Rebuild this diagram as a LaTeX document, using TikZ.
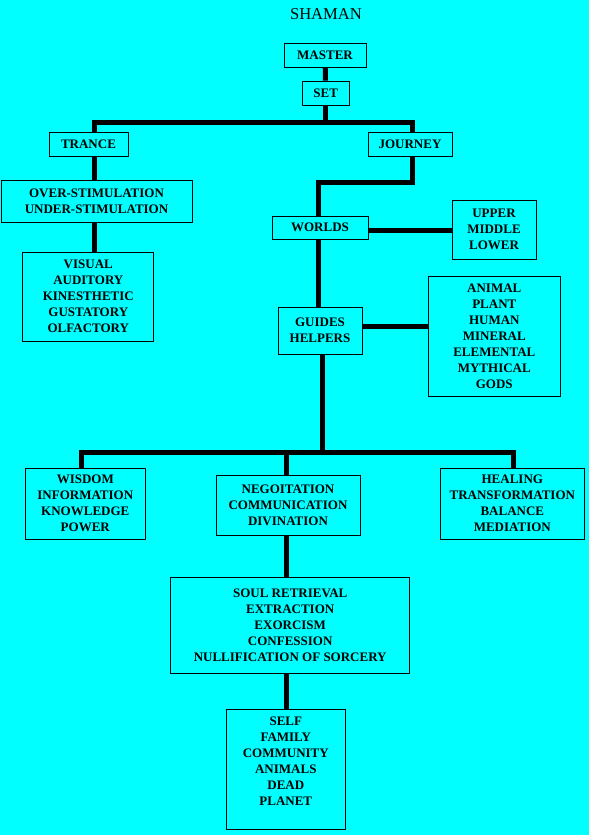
\documentclass[tikz,border=0pt]{standalone}
\usepackage{fontspec}
\setmainfont{Liberation Serif}
\usetikzlibrary{positioning}
\definecolor{shamanbg}{RGB}{0,255,255}
\tikzset{
  box/.style={draw, line width=0.9pt, inner sep=0pt, align=center,
    font=\fontsize{13}{16}\selectfont\bfseries},
  link/.style={line width=5pt, line join=miter}
}

\begin{document}
\begin{tikzpicture}[x=1pt,y=-1pt]
  \fill[shamanbg] (0,0) rectangle (589,835);
  \useasboundingbox (0,0) rectangle (589,835);
  \node (title) at (326,14) {\fontsize{16.6}{18}\selectfont SHAMAN};
  \node[box, minimum width=82, minimum height=24] (master) at (325,55.5) {MASTER};
  \node[box, minimum width=47, minimum height=24] (set) at (325.7,93) {SET};
  \node[box, minimum width=79, minimum height=24] (trance) at (88.5,144) {TRANCE};
  \node[box, minimum width=84, minimum height=24] (journey) at (410,144) {JOURNEY};
  \node[box, minimum width=191, minimum height=42] (stim) at (96.5,201)
    {OVER-STIMULATION\\UNDER-STIMULATION};
  \node[box, minimum width=131, minimum height=89] (senses) at (88.3,296.5)
    {VISUAL\\AUDITORY\\KINESTHETIC\\GUSTATORY\\OLFACTORY};
  \node[box, minimum width=96, minimum height=23] (worlds) at (320,227.5) {WORLDS};
  \node[box, minimum width=84, minimum height=59] (levels) at (494,229.5)
    {UPPER\\MIDDLE\\LOWER};
  \node[box, minimum width=84, minimum height=47] (guides) at (320,330.5)
    {GUIDES\\HELPERS};
  \node[box, minimum width=131.5, minimum height=120] (spirits) at (494.3,336)
    {ANIMAL\\PLANT\\HUMAN\\MINERAL\\ELEMENTAL\\MYTHICAL\\GODS};
  \node[box, minimum width=119.5, minimum height=71] (wisdom) at (85.3,503.5)
    {WISDOM\\INFORMATION\\KNOWLEDGE\\POWER};
  \node[box, minimum width=144, minimum height=60] (nego) at (288,505)
    {NEGOITATION\\COMMUNICATION\\DIVINATION};
  \node[box, minimum width=143.3, minimum height=71] (healing) at (512.3,503.5)
    {HEALING\\TRANSFORMATION\\BALANCE\\MEDIATION};
  \node[box, minimum width=239, minimum height=96] (soul) at (290.2,625)
    {SOUL RETRIEVAL\\EXTRACTION\\EXORCISM\\CONFESSION\\NULLIFICATION OF SORCERY};
  \node[box, minimum width=118.3, minimum height=120] (self) at (285.8,769)
    {SELF\\FAMILY\\COMMUNITY\\ANIMALS\\DEAD\\PLANET\\\phantom{X}};
  % branch points
  \coordinate (barL) at (94,122.5);
  \coordinate (barR) at (412,122.5);
  \coordinate (wx) at (318,182);
  \coordinate (hub) at (322,452);
  \coordinate (hubL) at (81,452);
  \coordinate (hubR) at (513,452);
  \coordinate (down) at (286,452);
  \draw[link] (master) -- (set);
  \draw[link] (set) -- (set |- barL);
  \draw[link] (trance.north -| barL) -- (barL) -- (barR) -- (journey.north -| barR);
  \draw[link] (trance.south -| barL) -- (stim.north -| barL);
  \draw[link] (stim.south -| barL) -- (senses.north -| barL);
  \draw[link] (journey.south -| barR) |- (wx) -- (worlds.north -| wx);
  \draw[link] ([yshift=-2.5pt]worlds.east) -- ([yshift=-2.5pt]worlds.east -| levels.west);
  \draw[link] (worlds.south -| wx) -- (guides.north -| wx);
  \draw[link] ([yshift=4pt]guides.east) -- ([yshift=4pt]guides.east -| spirits.west);
  \draw[link] (guides.south -| hub) -- (hub);
  \draw[link] (wisdom.north -| hubL) -- (hubL) -- (hubR) -- (healing.north -| hubR);
  \draw[link] (down) -- (nego.north -| down);
  \draw[link] (nego.south -| down) -- (soul.north -| down);
  \draw[link] (soul.south -| down) -- (self.north -| down);
\end{tikzpicture}
\end{document}
